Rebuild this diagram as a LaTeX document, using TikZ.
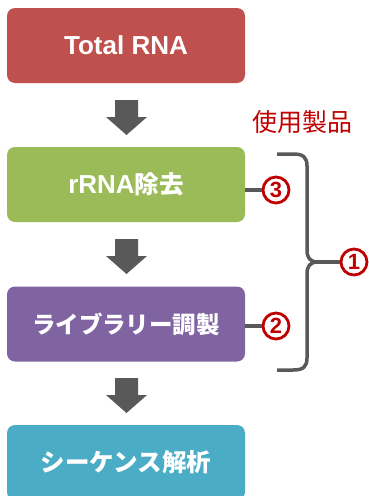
\documentclass[tikz,border=0pt]{standalone}
\usepackage{fontspec}
\setmainfont{Liberation Sans}
\newfontfamily\jp{Noto Sans CJK JP}
\definecolor{cred}{HTML}{C0504D}
\definecolor{cgreen}{HTML}{9BBB59}
\definecolor{cpurple}{HTML}{8064A2}
\definecolor{ccyan}{HTML}{4BACC6}
\definecolor{cgray}{HTML}{595959}
\definecolor{cmark}{HTML}{C00000}
\begin{document}
\begin{tikzpicture}[x=1pt,y=-1pt,
  stepbox/.style={rounded corners=8pt, minimum width=238pt, minimum height=75pt,
    inner sep=0pt, text=white, font=\fontsize{26}{30}\selectfont\bfseries},
  numlabel/.style={circle, draw=cmark, line width=2.8pt, minimum size=26pt, inner sep=0pt,
    text=cmark, font=\bfseries\fontsize{22}{22}\selectfont},
  link/.style={draw=cgray, line width=3.5pt},
  blockarrow/.style={fill=cgray}]
\useasboundingbox (0,0) rectangle (368,496);
\begin{scope}
\clip (0,0) rectangle (368,496);
\node[stepbox, fill=cred] (b1) at (126,45.5) {Total RNA};
\node[stepbox, fill=cgreen] (b2) at (126,184.5) {rRNA{\jp\bfseries\fontsize{24.5}{30}\selectfont 除去}};
\node[stepbox, fill=cpurple] (b3) at (126,324) {\jp\bfseries\fontsize{23.5}{30}\selectfont ライブラリー調製};
\node[stepbox, fill=ccyan] (b4) at (126,462.5) {\jp\bfseries\fontsize{24.5}{30}\selectfont シーケンス解析};
\end{scope}
\foreach \t in {100,239,378}{
  \fill[blockarrow] (115,\t) -- (138,\t) -- (138,\t+17) -- (147,\t+17) -- (126.5,\t+35)
    -- (106,\t+17) -- (115,\t+17) -- cycle;
}
\node[text=cmark, inner sep=0pt, font=\jp\fontsize{25}{30}\selectfont] (lbl) at (302,122) {使用製品};
\node[numlabel] (n3) at (276,190) {3};
\node[numlabel] (n2) at (276,326) {2};
\node[numlabel] (n1) at (354,262) {1};
\draw[link] (b2.east |- n3.west) -- (n3.west);
\draw[link] (b3.east |- n2.west) -- (n2.west);
\coordinate (btop) at (277,154);
\coordinate (bbot) at (277,370);
\draw[link, line join=round] (btop) -- (293,154) .. controls (303,154) and (307,157) .. (307,166)
  -- (307,250) .. controls (307,258) and (310,262) .. (318,262)
  .. controls (310,262) and (307,266) .. (307,274)
  -- (307,358) .. controls (307,367) and (303,370) .. (293,370) -- (bbot);
\draw[link] (318,262) -- (n1.west);
\end{tikzpicture}
\end{document}
